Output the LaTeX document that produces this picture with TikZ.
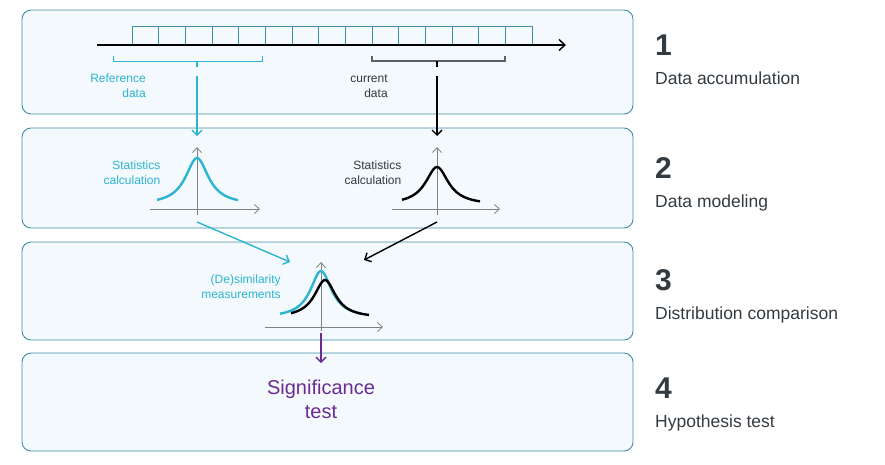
\documentclass[tikz,border=0pt]{standalone}
\usepackage{fontspec}
\usetikzlibrary{arrows.meta}
\setmainfont{Liberation Sans}
\begin{document}
\begin{tikzpicture}[x=1pt,y=-1pt,
  panel/.style={draw=bordc,fill=fillc,rounded corners=9pt,line width=0.9pt},
  cell/.style={draw=bordc,line width=0.7pt,minimum width=26.67pt,minimum height=19pt,inner sep=0,outer sep=0},
  small/.style={font=\fontsize{12}{15}\selectfont,align=right},
  num/.style={font=\fontsize{30}{32}\selectfont\bfseries,text=numc,anchor=west,inner sep=0},
  lab/.style={font=\fontsize{17.5}{19}\selectfont,text=numc,anchor=west,inner sep=0},
  ax/.style={gray,line width=0.8pt,-{Straight Barb[length=5pt,width=9pt]}},
  arr/.style={line width=1.4pt,-{Straight Barb[length=5pt,width=10pt]}}
]
\definecolor{bordc}{HTML}{3F8FA3}
\definecolor{fillc}{HTML}{F3F9FC}
\definecolor{bl}{HTML}{2BB5D1}
\definecolor{pu}{HTML}{6A2C91}
\definecolor{numc}{HTML}{333A40}
\useasboundingbox (0,0) rectangle (885,464);
\draw[panel] (22,10) rectangle (633,114);
\draw[panel] (22,128) rectangle (633,228);
\draw[panel] (22,242) rectangle (633,340);
\draw[panel] (22,353) rectangle (633,451);
% timeline
\foreach \i in {0,...,14} \node[cell,anchor=south west] (c\i) at (132+26.67*\i,45) {};
\coordinate (ts) at (97,45); \coordinate (te) at (566,45);
\draw[line width=1.4pt,-{Straight Barb[length=6pt,width=11pt]}] (ts) -- (te);
% brackets
\draw[bl,line width=0.9pt] (113,56) -- (113,61) -- (262,61) -- (262,56);
\draw[numc!80,line width=1.1pt] (372,56) -- (372,61) -- (505,61) -- (505,56);
\coordinate (rb) at (197,61); \coordinate (cb) at (437,61);
\draw[bl,line width=1.4pt] (rb) -- +(0,6);
\draw[line width=1.4pt] (cb) -- +(0,6);
\node[small,text=bl] (reftxt) at (118,86) {Reference\\data};
\node[small,text=numc,align=right] (curtxt) at (369,86) {current\\data};
\coordinate (ra) at (197,76); \coordinate (rt) at (197,136);
\coordinate (ca) at (437,76); \coordinate (ct) at (437,136);
\draw[arr,bl] (ra) -- (rt);
\draw[arr] (ca) -- (ct);
% row 2 curves
\draw[ax] (150,209) -- (260,209);
\draw[ax] (197,215) -- (197,147);
\draw[bl,line width=2.4pt,domain=-40:41,samples=60] plot ({197+\x},{205-47/(1+(\x/14)^2)});
\node[small,text=bl] (st1) at (132,173) {Statistics\\calculation};
\draw[ax] (392,209) -- (500,209);
\draw[ax] (437,215) -- (437,147);
\draw[line width=2.4pt,domain=-35:43,samples=60] plot ({437+\x},{205-38/(1+(\x/14)^2)});
\node[small,text=numc] (st2) at (373,173) {Statistics\\calculation};
% arrows to row 3
\coordinate (a1) at (197,222); \coordinate (b1) at (290,262);
\coordinate (a2) at (437,222); \coordinate (b2) at (364,260);
\draw[arr,bl] (a1) -- (b1);
\draw[arr] (a2) -- (b2);
% row 3
\draw[ax] (265,327) -- (383,327);
\draw[ax] (321,331) -- (321,262);
\draw[bl,line width=2.4pt,domain=-41:40,samples=60] plot ({321+\x},{318-47/(1+(\x/13)^2)});
\draw[line width=2.4pt,domain=-34:44,samples=60] plot ({325+\x},{318-38/(1+(\x/13)^2)});
\node[small,text=bl] (ds) at (241,287) {(De)similarity\\measurements};
\coordinate (pa) at (321,333); \coordinate (pb) at (321,363);
\draw[arr,pu] (pa) -- (pb);
\node[font=\fontsize{20}{24}\selectfont,text=pu,align=center] (sig) at (321,399) {Significance\\test};
% right labels
\node[num] (n1) at (655,45) {1}; \node[lab] (l1) at (655,78) {Data accumulation};
\node[num] (n2) at (655,168) {2}; \node[lab] (l2) at (655,203) {Data modeling};
\node[num] (n3) at (655,280) {3}; \node[lab] (l3) at (655,315) {Distribution comparison};
\node[num] (n4) at (655,388) {4}; \node[lab] (l4) at (655,423) {Hypothesis test};
\end{tikzpicture}
\end{document}
